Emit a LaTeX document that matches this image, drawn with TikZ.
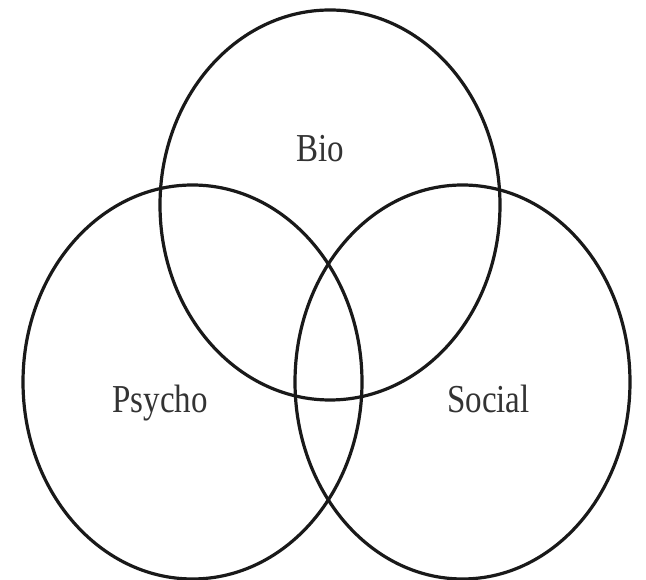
\documentclass[tikz,border=0pt]{standalone}
\usepackage{fontspec}
\setmainfont{Liberation Serif}
\usepackage{tikz}

\begin{document}
\begin{tikzpicture}[x=1pt, y=1pt,
    ring/.style={line width=3.2pt, black!90},
    lbl/.style={font=\fontsize{33}{33}\selectfont, text=black!80, inner sep=0pt, anchor=base, yscale=1.2, transform shape}]
    \useasboundingbox (0,0) rectangle (646,580);
    % the three overlapping rings
    \draw[ring] (330,375) ellipse [x radius=170, y radius=195];
    \draw[ring] (192.5,198) ellipse [x radius=169.5, y radius=197];
    \draw[ring] (462.5,198) ellipse [x radius=167.5, y radius=197];
    % labels
    \node[lbl] (bio) at (320,418) {Bio};
    \node[lbl] (psycho) at (160,167) {Psycho};
    \node[lbl] (social) at (488.5,167) {Social};
\end{tikzpicture}
\end{document}
